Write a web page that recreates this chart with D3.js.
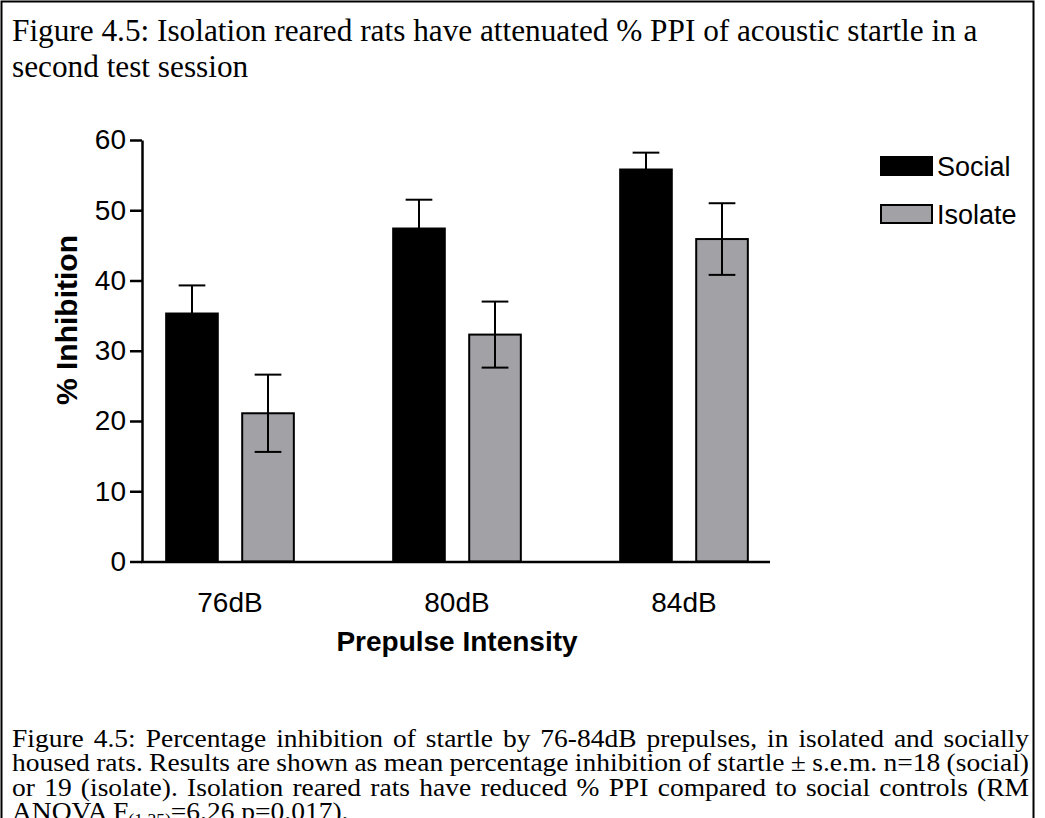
<!DOCTYPE html>
<html>
<head>
<meta charset="utf-8">
<script src="https://cdn.jsdelivr.net/npm/d3@7"></script>
<style>
  html, body { margin: 0; padding: 0; background: #fff; }
  svg { display: block; }
</style>
</head>
<body>
<svg id="chart" width="1045" height="818"></svg>
<script>
// ---- data ----
const categories = ["76dB", "80dB", "84dB"];
const seriesNames = ["Social", "Isolate"];
const socialMean = [35.3, 47.4, 55.8];
const socialSem = [4.0, 4.1, 2.4];
const isolateMean = [21.1, 32.3, 45.9];
const isolateSem = [5.5, 4.7, 5.1];
const yTicks = [0, 10, 20, 30, 40, 50, 60];
const titleLines = [
  "Figure 4.5: Isolation reared rats have attenuated % PPI of acoustic startle in a",
  "second test session"
];
const captionLines = [
  "Figure 4.5: Percentage inhibition of startle by 76-84dB prepulses, in isolated and socially",
  "housed rats. Results are shown as mean percentage inhibition of startle \u00b1 s.e.m. n=18 (social)",
  "or 19 (isolate). Isolation reared rats have reduced % PPI compared to social controls (RM"
];

const colors = { Social: "#000000", Isolate: "#a2a1a6" };

const svg = d3.select("#chart");

// frame
svg.append("rect")
  .attr("x", 1.5).attr("y", 1.5).attr("width", 1032).attr("height", 830)
  .attr("fill", "none").attr("stroke", "#000").attr("stroke-width", 2);

const serif = "'Liberation Serif', 'Times New Roman', serif";
const sans = "'Liberation Sans', Arial, Helvetica, sans-serif";

// title
const tt = svg.selectAll("text.title").data(titleLines).enter().append("text")
  .attr("class", "title")
  .attr("font-family", serif).attr("font-size", 31)
  .text(d => d);
const tLen = tt.nodes()[0].getComputedTextLength();
const tSx = 966 / tLen;
tt.attr("transform", (d, i) => `translate(12,${41 + i * 36}) scale(${tSx},1)`);

// scales
const y = d3.scaleLinear().domain([0, 60]).range([561.5, 140]);
const xg = d3.scalePoint().domain(categories).range([230, 684]);
const xs = d3.scaleBand().domain(seriesNames).range([-76, 76]).paddingInner(0.321).paddingOuter(0.16);

const data = [];
categories.forEach((c, i) => {
  data.push({ cat: c, s: "Social", m: socialMean[i], e: socialSem[i] });
  data.push({ cat: c, s: "Isolate", m: isolateMean[i], e: isolateSem[i] });
});

const g = svg.append("g");

// bars
g.selectAll("rect.bar").data(data).enter().append("rect")
  .attr("class", "bar")
  .attr("x", d => xg(d.cat) + xs(d.s))
  .attr("width", xs.bandwidth())
  .attr("y", d => y(d.m))
  .attr("height", d => y(0) - y(d.m))
  .attr("fill", d => colors[d.s])
  .attr("stroke", "#000").attr("stroke-width", 2);

// error bars
const capW = 26.7;
const cx = d => xg(d.cat) + xs(d.s) + xs.bandwidth() / 2;
const eb = g.selectAll("g.err").data(data).enter().append("g").attr("class", "err")
  .attr("stroke", "#000").attr("stroke-width", 2);
eb.append("line")
  .attr("x1", cx).attr("x2", cx)
  .attr("y1", d => y(d.m + d.e)).attr("y2", d => y(d.m - d.e));
eb.append("line")
  .attr("x1", d => cx(d) - capW / 2).attr("x2", d => cx(d) + capW / 2)
  .attr("y1", d => y(d.m + d.e)).attr("y2", d => y(d.m + d.e));
eb.append("line")
  .attr("x1", d => cx(d) - capW / 2).attr("x2", d => cx(d) + capW / 2)
  .attr("y1", d => y(d.m - d.e)).attr("y2", d => y(d.m - d.e));

// y axis
const yAxis = svg.append("g").attr("transform", "translate(142,0)")
  .call(d3.axisLeft(y).tickValues(yTicks).tickSize(12).tickPadding(4).tickSizeOuter(0));
yAxis.select(".domain").attr("stroke-width", 2.5);
yAxis.selectAll(".tick line").attr("stroke-width", 2.5);
yAxis.selectAll(".tick text").attr("font-family", sans).attr("font-size", 28).attr("fill", "#000");

// x axis
const xAxisY = 562;
svg.append("line").attr("x1", 141).attr("x2", 770).attr("y1", xAxisY).attr("y2", xAxisY)
  .attr("stroke", "#000").attr("stroke-width", 2.5);
svg.selectAll("text.xlab").data(categories).enter().append("text")
  .attr("class", "xlab")
  .attr("x", d => xg(d)).attr("y", 612)
  .attr("text-anchor", "middle")
  .attr("font-family", sans).attr("font-size", 28)
  .text(d => d);

// axis titles
svg.append("text")
  .attr("x", 457).attr("y", 651)
  .attr("text-anchor", "middle")
  .attr("font-family", sans).attr("font-size", 28).attr("font-weight", "bold")
  .text("Prepulse Intensity");
svg.append("text")
  .attr("transform", "translate(77,320) rotate(-90)")
  .attr("text-anchor", "middle")
  .attr("font-family", sans).attr("font-size", 30).attr("font-weight", "bold")
  .text("% Inhibition");

// legend
const leg = svg.append("g");
seriesNames.forEach((s, i) => {
  leg.append("rect")
    .attr("x", 881).attr("y", 157 + i * 48).attr("width", 51).attr("height", 18)
    .attr("fill", colors[s]).attr("stroke", "#000").attr("stroke-width", 2);
  leg.append("text")
    .attr("x", 937).attr("y", 176 + i * 48)
    .attr("font-family", sans).attr("font-size", 27)
    .text(s);
});

// caption (justified, slightly widened glyphs)
const capX0 = 12, capX1 = 1029;
const capBase = 747, capLead = 24.3, capFs = 25, capSx = 1.1;
captionLines.forEach((line, i) => {
  const t = svg.append("text")
    .attr("transform", `translate(${capX0},${capBase + i * capLead}) scale(${capSx},1)`)
    .attr("font-family", serif).attr("font-size", capFs)
    .text(line);
  const len = t.node().getComputedTextLength();
  const spaces = (line.match(/ /g) || []).length;
  if (spaces > 0) t.attr("word-spacing", ((capX1 - capX0) / capSx - len) / spaces);
});
const last = svg.append("text")
  .attr("transform", `translate(${capX0},${capBase + 3 * capLead}) scale(${capSx},1)`)
  .attr("font-family", serif).attr("font-size", capFs);
last.append("tspan").text("ANOVA F");
last.append("tspan").attr("font-size", 16).attr("dy", 5).text("(1,35)");
last.append("tspan").attr("dy", -5).text("=6.26 p=0.017).");
</script>
</body>
</html>
